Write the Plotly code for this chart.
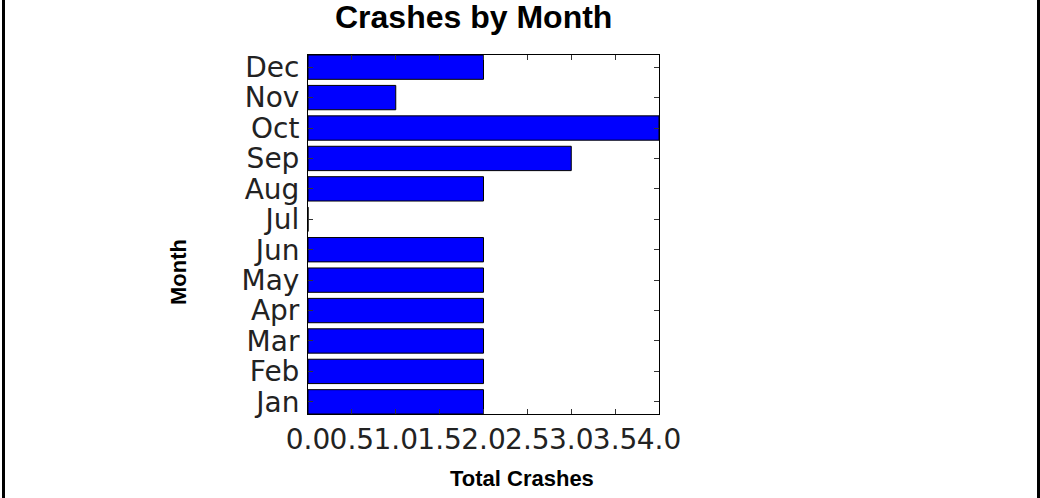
import plotly.graph_objects as go

months = ["Jan", "Feb", "Mar", "Apr", "May", "Jun", "Jul", "Aug", "Sep", "Oct", "Nov", "Dec"]
crashes = [2, 2, 2, 2, 2, 2, 0, 2, 3, 4, 1, 2]
x_ticks = [0.0, 0.5, 1.0, 1.5, 2.0, 2.5, 3.0, 3.5, 4.0]
x_tick_labels = ["0.0", "0.5", "1.0", "1.5", "2.0", "2.5", "3.0", "3.5", "4.0"]

W, H = 1040, 498
L, R, T, B = 308, 659, 55, 414


def px(x):
    return (x - L) / (R - L)


def py(y):
    return (B - y) / (B - T)


fig = go.Figure(
    go.Bar(
        x=crashes,
        y=months,
        orientation="h",
        width=0.8,
        marker=dict(color="#0000FF", line=dict(color="black", width=1)),
    )
)

tick_font = dict(family="DejaVu Sans", size=28, color="#222222")

fig.update_layout(
    width=W,
    height=H,
    margin=dict(l=L, r=W - R, t=T, b=H - B, pad=0),
    paper_bgcolor="white",
    plot_bgcolor="white",
    showlegend=False,
    xaxis=dict(
        range=[0, 4],
        tickmode="array",
        tickvals=x_ticks,
        ticktext=x_tick_labels,
        tickangle=0,
        ticks="inside",
        ticklen=5,
        tickcolor="#333333",
        showline=True,
        linecolor="black",
        linewidth=1,
        mirror="ticks",
        showgrid=False,
        zeroline=False,
        tickfont=tick_font,
    ),
    yaxis=dict(
        type="category",
        categoryorder="array",
        categoryarray=months,
        range=[-0.4, 11.4],
        tickmode="array",
        tickvals=months,
        ticktext=months,
        ticks="inside",
        ticklen=5,
        tickcolor="#333333",
        showline=True,
        linecolor="black",
        linewidth=1,
        mirror="ticks",
        showgrid=False,
        zeroline=False,
        tickfont=tick_font,
        ticklabelstandoff=2,
    ),
    annotations=[
        dict(text="<b>Crashes by Month</b>", x=px(473), y=py(17), xref="paper", yref="paper",
             xanchor="center", yanchor="middle", showarrow=False,
             font=dict(family="Liberation Sans", size=32, color="black")),
        dict(text="<b>Total Crashes</b>", x=px(522), y=py(478), xref="paper", yref="paper",
             xanchor="center", yanchor="middle", showarrow=False,
             font=dict(family="Liberation Sans", size=22, color="black")),
        dict(text="<b>Month</b>", x=px(178), y=py(272), xref="paper", yref="paper",
             xanchor="center", yanchor="middle", showarrow=False, textangle=-90,
             font=dict(family="Liberation Sans", size=22, color="black")),
    ],
    shapes=[
        dict(type="line", xref="paper", yref="paper", x0=px(3.5), x1=px(3.5), y0=py(0), y1=py(498),
             line=dict(color="black", width=3)),
        dict(type="line", xref="paper", yref="paper", x0=px(1038.5), x1=px(1038.5), y0=py(0), y1=py(498),
             line=dict(color="black", width=3)),
    ],
)

fig.write_html("out.html", config={"displayModeBar": False},
               post_script="document.body.style.margin='0';")
